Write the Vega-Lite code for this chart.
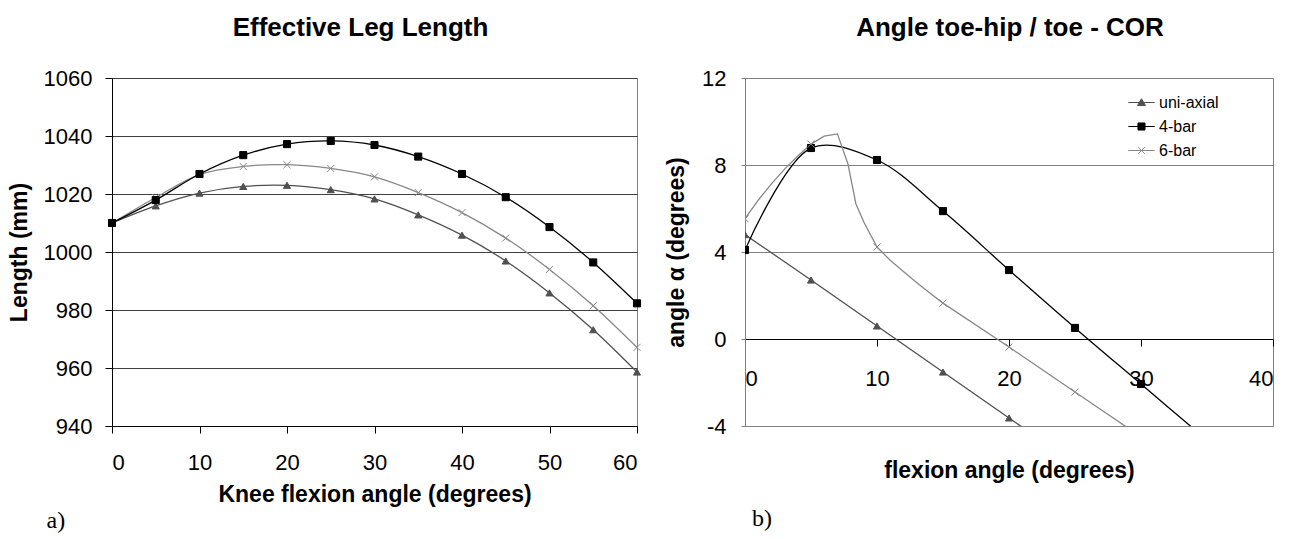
{
  "$schema": "https://vega.github.io/schema/vega-lite/v6.json",
  "padding": {"left": 7, "top": 14, "right": 0, "bottom": 0},
  "config": {
    "font": "Liberation Sans",
    "view": {"stroke": "#808080", "strokeWidth": 1},
    "axis": {
      "labelFont": "Liberation Sans", "titleFont": "Liberation Sans",
      "labelColor": "#000000", "titleColor": "#000000",
      "domainColor": "#000000", "tickColor": "#000000",
      "labelFontSize": 22, "titleFontSize": 23, "titleFontWeight": "bold"
    },
    "title": {"font": "Liberation Sans", "fontSize": 26, "fontWeight": "bold", "color": "#000000"}
  },
  "datasets": {
    "leg": [
      {"angle": 0, "series": "uni-axial", "length": 1010},
      {"angle": 5, "series": "uni-axial", "length": 1015.9},
      {"angle": 10, "series": "uni-axial", "length": 1020.3},
      {"angle": 15, "series": "uni-axial", "length": 1022.6},
      {"angle": 20, "series": "uni-axial", "length": 1023},
      {"angle": 25, "series": "uni-axial", "length": 1021.5},
      {"angle": 30, "series": "uni-axial", "length": 1018.3},
      {"angle": 35, "series": "uni-axial", "length": 1012.8},
      {"angle": 40, "series": "uni-axial", "length": 1005.8},
      {"angle": 45, "series": "uni-axial", "length": 996.9},
      {"angle": 50, "series": "uni-axial", "length": 985.9},
      {"angle": 55, "series": "uni-axial", "length": 973.2},
      {"angle": 60, "series": "uni-axial", "length": 958.6},
      {"angle": 0, "series": "6-bar", "length": 1010},
      {"angle": 5, "series": "6-bar", "length": 1018.8},
      {"angle": 10, "series": "6-bar", "length": 1026.7},
      {"angle": 15, "series": "6-bar", "length": 1029.5},
      {"angle": 20, "series": "6-bar", "length": 1030.1},
      {"angle": 25, "series": "6-bar", "length": 1028.8},
      {"angle": 30, "series": "6-bar", "length": 1025.9},
      {"angle": 35, "series": "6-bar", "length": 1020.5},
      {"angle": 40, "series": "6-bar", "length": 1013.6},
      {"angle": 45, "series": "6-bar", "length": 1004.8},
      {"angle": 50, "series": "6-bar", "length": 994},
      {"angle": 55, "series": "6-bar", "length": 981.5},
      {"angle": 60, "series": "6-bar", "length": 967.1},
      {"angle": 0, "series": "4-bar", "length": 1010},
      {"angle": 5, "series": "4-bar", "length": 1017.9},
      {"angle": 10, "series": "4-bar", "length": 1026.9},
      {"angle": 15, "series": "4-bar", "length": 1033.4},
      {"angle": 20, "series": "4-bar", "length": 1037.2},
      {"angle": 25, "series": "4-bar", "length": 1038.3},
      {"angle": 30, "series": "4-bar", "length": 1036.9},
      {"angle": 35, "series": "4-bar", "length": 1032.9},
      {"angle": 40, "series": "4-bar", "length": 1026.9},
      {"angle": 45, "series": "4-bar", "length": 1018.9},
      {"angle": 50, "series": "4-bar", "length": 1008.6},
      {"angle": 55, "series": "4-bar", "length": 996.4},
      {"angle": 60, "series": "4-bar", "length": 982.3}
    ],
    "toe": [
      {"flex": 0, "series": "uni-axial", "alpha": 4.8, "marker": true},
      {"flex": 5, "series": "uni-axial", "alpha": 2.71, "marker": true},
      {"flex": 10, "series": "uni-axial", "alpha": 0.6, "marker": true},
      {"flex": 15, "series": "uni-axial", "alpha": -1.52, "marker": true},
      {"flex": 20, "series": "uni-axial", "alpha": -3.63, "marker": true},
      {"flex": 25, "series": "uni-axial", "alpha": -5.75, "marker": false},
      {"flex": 0, "series": "6-bar", "alpha": 5.53, "marker": true},
      {"flex": 1, "series": "6-bar", "alpha": 6.38, "marker": false},
      {"flex": 2, "series": "6-bar", "alpha": 7.13, "marker": false},
      {"flex": 3, "series": "6-bar", "alpha": 7.81, "marker": false},
      {"flex": 4, "series": "6-bar", "alpha": 8.41, "marker": false},
      {"flex": 5, "series": "6-bar", "alpha": 8.96, "marker": true},
      {"flex": 6, "series": "6-bar", "alpha": 9.33, "marker": false},
      {"flex": 7, "series": "6-bar", "alpha": 9.43, "marker": false},
      {"flex": 7.8, "series": "6-bar", "alpha": 8.05, "marker": false},
      {"flex": 8.4, "series": "6-bar", "alpha": 6.22, "marker": false},
      {"flex": 9, "series": "6-bar", "alpha": 5.38, "marker": false},
      {"flex": 10, "series": "6-bar", "alpha": 4.23, "marker": true},
      {"flex": 11, "series": "6-bar", "alpha": 3.62, "marker": false},
      {"flex": 12, "series": "6-bar", "alpha": 3.1, "marker": false},
      {"flex": 13, "series": "6-bar", "alpha": 2.6, "marker": false},
      {"flex": 14, "series": "6-bar", "alpha": 2.12, "marker": false},
      {"flex": 15, "series": "6-bar", "alpha": 1.65, "marker": true},
      {"flex": 20, "series": "6-bar", "alpha": -0.37, "marker": true},
      {"flex": 25, "series": "6-bar", "alpha": -2.44, "marker": true},
      {"flex": 30, "series": "6-bar", "alpha": -4.5, "marker": false},
      {"flex": 0, "series": "4-bar", "alpha": 4.09, "marker": true},
      {"flex": 5, "series": "4-bar", "alpha": 8.78, "marker": true},
      {"flex": 10, "series": "4-bar", "alpha": 8.23, "marker": true},
      {"flex": 15, "series": "4-bar", "alpha": 5.88, "marker": true},
      {"flex": 20, "series": "4-bar", "alpha": 3.17, "marker": true},
      {"flex": 25, "series": "4-bar", "alpha": 0.51, "marker": true},
      {"flex": 30, "series": "4-bar", "alpha": -2.07, "marker": true},
      {"flex": 35, "series": "4-bar", "alpha": -4.65, "marker": false}
    ]
  },
  "resolve": {"scale": {"color": "independent", "shape": "independent", "stroke": "independent"}},
  "spacing": 21,
  "hconcat": [
    {
      "title": {"text": "a)", "orient": "bottom", "anchor": "start", "font": "Liberation Serif", "fontSize": 24, "fontWeight": "normal", "offset": 2, "dx": 39},
      "vconcat": [
        {
          "width": 525,
          "height": 348,
          "title": {"text": "Effective Leg Length", "dx": -14, "offset": 26},
          "data": {"name": "leg"},
          "encoding": {
            "x": {"field": "angle", "type": "quantitative", "scale": {"domain": [0, 60], "nice": false},
                  "axis": {"values": [0, 10, 20, 30, 40, 50, 60], "title": "Knee flexion angle (degrees)", "grid": false, "tickSize": 7, "labelPadding": 19, "titlePadding": 10}},
            "y": {"field": "length", "type": "quantitative", "scale": {"domain": [940, 1060], "nice": false, "zero": false},
                  "axis": {"values": [940, 960, 980, 1000, 1020, 1040, 1060], "format": "d", "title": "Length (mm)", "grid": true, "gridColor": "#404040", "tickSize": 7, "labelPadding": 13, "titlePadding": 12}}
          },
          "layer": [
            {
              "mark": {"type": "line", "interpolate": "catmull-rom", "strokeWidth": 1.3},
              "encoding": {
                "color": {"field": "series", "type": "nominal", "scale": {"domain": ["uni-axial", "4-bar", "6-bar"], "range": ["#505050", "#000000", "#888888"]}, "legend": null}
              }
            },
            {
              "mark": {"type": "point", "filled": true, "opacity": 1, "strokeWidth": 1},
              "encoding": {
                "color": {"field": "series", "type": "nominal", "scale": {"domain": ["uni-axial", "4-bar", "6-bar"], "range": ["#505050", "#000000", "#888888"]}, "legend": null},
                "stroke": {"field": "series", "type": "nominal", "scale": {"domain": ["uni-axial", "4-bar", "6-bar"], "range": ["#505050", "#000000", "#888888"]}, "legend": null},
                "shape": {"field": "series", "type": "nominal", "scale": {"domain": ["uni-axial", "4-bar", "6-bar"], "range": ["triangle-up", "square", "M-1,-1L1,1M-1,1L1,-1"]}, "legend": null},
                "size": {"value": 50}
              }
            }
          ]
        }
      ]
    },
    {
      "title": {"text": "b)", "orient": "bottom", "anchor": "start", "font": "Liberation Serif", "fontSize": 24, "fontWeight": "normal", "offset": 24, "dx": 87},
      "vconcat": [
        {
          "width": 528,
          "height": 348,
          "title": {"text": "Angle toe-hip / toe - COR", "dx": 1, "offset": 26},
          "data": {"name": "toe"},
          "encoding": {
            "x": {"field": "flex", "type": "quantitative", "scale": {"domain": [0, 40], "nice": false},
                  "axis": {"values": [0, 10, 20, 30, 40], "title": "flexion angle (degrees)", "grid": false, "offset": -87, "tickSize": 7, "labelPadding": 22, "titlePadding": 70}},
            "y": {"field": "alpha", "type": "quantitative", "scale": {"domain": [-4, 12], "nice": false, "zero": false},
                  "axis": {"values": [-4, 0, 4, 8, 12], "labelExpr": "'' + datum.value", "title": "angle α (degrees)", "grid": true, "gridColor": "#808080", "domainColor": "#808080", "tickColor": "#808080", "tickSize": 4, "labelPadding": 15, "titlePadding": 13}}
          },
          "layer": [
            {
              "transform": [{"filter": "datum.series !== '6-bar'"}],
              "mark": {"type": "line", "interpolate": "catmull-rom", "strokeWidth": 1.3, "clip": true},
              "encoding": {
                "color": {"field": "series", "type": "nominal", "scale": {"domain": ["uni-axial", "4-bar", "6-bar"], "range": ["#505050", "#000000", "#888888"]},
                          "legend": {"title": null, "orient": "none", "legendX": 385, "legendY": 13, "padding": 0, "labelFont": "Liberation Sans", "labelFontSize": 16, "labelColor": "#000000", "symbolSize": 484, "labelOffset": 6, "rowPadding": 4,
                                     "encode": {"symbols": {"update": {
                                       "shape": {"signal": "datum.value === 'uni-axial' ? 'M-1.2,0H1.2M-0.36,0.28L0,-0.34L0.36,0.28Z' : datum.value === '4-bar' ? 'M-1.2,0H1.2M-0.32,-0.32H0.32V0.32H-0.32Z' : 'M-1.2,0H1.2M-0.3,-0.3L0.3,0.3M-0.3,0.3L0.3,-0.3'"},
                                       "fill": {"signal": "datum.value === 'uni-axial' ? '#505050' : datum.value === '4-bar' ? '#000000' : '#888888'"},
                                       "stroke": {"signal": "datum.value === 'uni-axial' ? '#505050' : datum.value === '4-bar' ? '#000000' : '#888888'"},
                                       "strokeWidth": {"value": 1},
                                       "opacity": {"value": 1}
                                     }}}}}
              }
            },
            {
              "transform": [{"filter": "datum.series === '6-bar'"}],
              "mark": {"type": "line", "interpolate": "linear", "strokeWidth": 1.3, "clip": true, "color": "#888888"},
              "encoding": {}
            },
            {
              "transform": [{"filter": "datum.marker && datum.series === 'uni-axial'"}],
              "mark": {"type": "point", "shape": "triangle-up", "filled": true, "opacity": 1, "size": 50, "color": "#505050", "stroke": "#505050", "strokeWidth": 1, "clip": true},
              "encoding": {}
            },
            {
              "transform": [{"filter": "datum.marker && datum.series === '4-bar'"}],
              "mark": {"type": "point", "shape": "square", "filled": true, "opacity": 1, "size": 50, "color": "#000000", "stroke": "#000000", "strokeWidth": 1, "clip": true},
              "encoding": {}
            },
            {
              "transform": [{"filter": "datum.marker && datum.series === '6-bar'"}],
              "mark": {"type": "point", "shape": "M-1,-1L1,1M-1,1L1,-1", "filled": false, "opacity": 1, "size": 50, "color": "#888888", "stroke": "#888888", "strokeWidth": 1, "clip": true},
              "encoding": {}
            }
          ]
        }
      ]
    }
  ]
}
